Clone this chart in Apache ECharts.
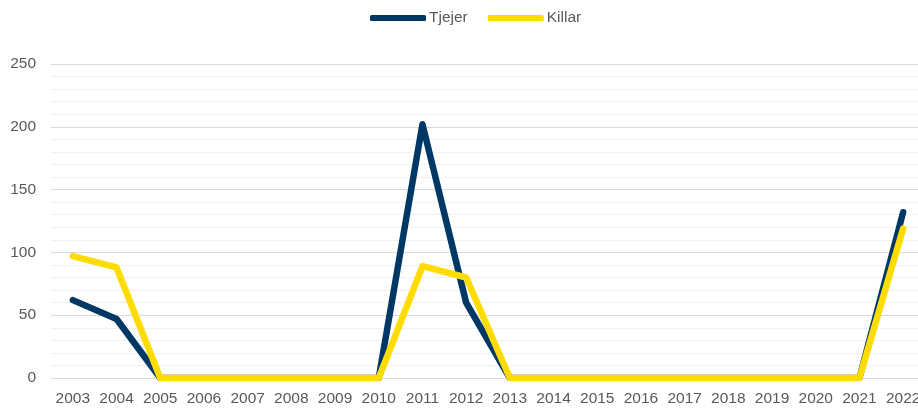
<!DOCTYPE html>
<html>
<head>
<meta charset="utf-8">
<script src="https://cdn.jsdelivr.net/npm/echarts@6/dist/echarts.min.js"></script>
<style>
  html, body { margin: 0; padding: 0; background: #fff; }
  #chart { width: 918px; height: 410px; }
</style>
</head>
<body>
<div id="chart"></div>
<script>
const years = ['2003', '2004', '2005', '2006', '2007', '2008', '2009', '2010', '2011', '2012',
  '2013', '2014', '2015', '2016', '2017', '2018', '2019', '2020', '2021', '2022']
const tjejer = [62, 47, 0, 0, 0, 0, 0, 0, 202, 60, 0, 0, 0, 0, 0, 0, 0, 0, 0, 132]
const killar = [97, 88, 0, 0, 0, 0, 0, 0, 89, 80, 0, 0, 0, 0, 0, 0, 0, 0, 0, 119]

const textColor = '#595959'
const font = 'Liberation Sans, Arial, sans-serif'

const myChart = echarts.init(document.getElementById('chart'))
myChart.setOption({
  animation: false,
  legend: {
    top: 5,
    left: 365,
    icon: 'roundRect',
    itemWidth: 56,
    itemHeight: 6,
    itemGap: 20,
    textStyle: { color: textColor, fontSize: 15.5, fontFamily: font, padding: [0, 0, 0, -2] },
    data: ['Tjejer', 'Killar']
  },
  grid: {
    top: 64,
    left: 51,
    right: -7,
    bottom: 32,
    outerBoundsMode: 'none'
  },
  xAxis: {
    type: 'category',
    data: years,
    boundaryGap: true,
    axisLine: { show: false },
    axisTick: { show: false },
    axisLabel: { color: textColor, fontSize: 15.5, fontFamily: font, margin: 13, interval: 0 }
  },
  yAxis: {
    type: 'value',
    min: 0,
    max: 250,
    interval: 50,
    axisLabel: { color: textColor, fontSize: 15.5, fontFamily: font, margin: 15 },
    splitLine: { lineStyle: { color: '#d9d9d9', width: 1 } },
    minorTick: { show: false, splitNumber: 5 },
    minorSplitLine: { show: true, lineStyle: { color: '#f0f0f0', width: 1 } }
  },
  series: [
    {
      name: 'Tjejer',
      type: 'line',
      data: tjejer,
      symbol: 'none',
      itemStyle: { color: '#003865' },
      lineStyle: { color: '#003865', width: 6.5, cap: 'round', join: 'round' }
    },
    {
      name: 'Killar',
      type: 'line',
      data: killar,
      symbol: 'none',
      itemStyle: { color: '#ffdc00' },
      lineStyle: { color: '#ffdc00', width: 6.5, cap: 'round', join: 'round' }
    }
  ]
})
</script>
</body>
</html>
